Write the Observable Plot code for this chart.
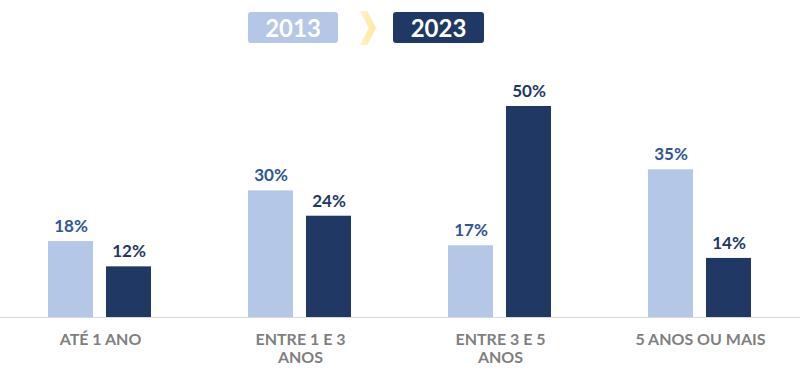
<!DOCTYPE html>
<html>
<head>
<meta charset="utf-8">
<script src="https://cdn.jsdelivr.net/npm/d3@7"></script>
<script src="https://cdn.jsdelivr.net/npm/@observablehq/plot@0.6"></script>
<style>
  html, body { margin: 0; padding: 0; background: #fff; }
  body { width: 800px; height: 370px; overflow: hidden; font-family: Lato, "Open Sans", sans-serif; }
  #legend { position: relative; width: 800px; height: 50px; }
  .yr { position: absolute; top: 12px; height: 31px; border-radius: 3px; color: #fff;
        font-weight: 700; font-size: 24px; line-height: 31px; text-align: center; }
  #chev { position: absolute; left: 360px; top: 11px; width: 16px; height: 34px;
          background: linear-gradient(90deg, #fff2cc, #ffe699);
          clip-path: polygon(0 0, 45% 0, 100% 50%, 45% 100%, 0 100%, 55% 50%); }
</style>
</head>
<body>
<div id="legend"></div>
<div id="chart"></div>
<script>
const categories = ["ATÉ 1 ANO", "ENTRE 1 E 3\nANOS", "ENTRE 3 E 5\nANOS", "5 ANOS OU MAIS"];
const years = ["2013", "2023"];
const values2013 = [18, 30, 17, 35];
const values2023 = [12, 24, 50, 14];

const barColors = ["#B4C7E7", "#203864"];
const labelColors = ["#2F5597", "#1F3864"];

// legend
const legend = document.getElementById("legend");
const b1 = document.createElement("div");
b1.className = "yr"; b1.style.left = "248px"; b1.style.width = "90px"; b1.style.background = barColors[0];
b1.textContent = years[0];
const ch = document.createElement("div"); ch.id = "chev";
const b2 = document.createElement("div");
b2.className = "yr"; b2.style.left = "393px"; b2.style.width = "91px"; b2.style.background = barColors[1];
b2.textContent = years[1];
legend.append(b1, ch, b2);

const data = [];
categories.forEach((c, i) => {
  data.push({cat: c, year: years[0], value: values2013[i]});
  data.push({cat: c, year: years[1], value: values2023[i]});
});
const d13 = data.filter(d => d.year === years[0]);
const d23 = data.filter(d => d.year === years[1]);

const chart = Plot.plot({
  width: 800,
  height: 320,
  marginLeft: 0,
  marginRight: 0,
  marginTop: 56,
  marginBottom: 53,
  style: {fontFamily: "Lato, 'Open Sans', sans-serif", background: "transparent"},
  facet: {marginTop: 0, marginBottom: 0, marginLeft: 0, marginRight: 0},
  fx: {domain: categories, padding: 0, axis: null},
  x: {domain: years, paddingInner: 0.224, paddingOuter: 0.836, axis: null},
  y: {domain: [0, 50], axis: null},
  color: {domain: years, range: barColors},
  marks: [
    Plot.barY(data, {fx: "cat", x: "year", y: "value", fill: "year"}),
    Plot.ruleY([0], {stroke: "#d9d9d9", strokeWidth: 1}),
    Plot.text(d13, {fx: "cat", x: "year", y: "value", text: d => d.value + "%", dy: -15,
      fill: labelColors[0], fontWeight: 700, fontSize: 17}),
    Plot.text(d23, {fx: "cat", x: "year", y: "value", text: d => d.value + "%", dy: -15,
      fill: labelColors[1], fontWeight: 700, fontSize: 17}),
    Plot.axisFx({anchor: "bottom", tickSize: 0, tickPadding: 14, fontSize: 16, fontWeight: 700,
      color: "#7F7F7F", label: null, lineHeight: 1.15})
  ]
});
document.getElementById("chart").append(chart);
</script>
</body>
</html>
